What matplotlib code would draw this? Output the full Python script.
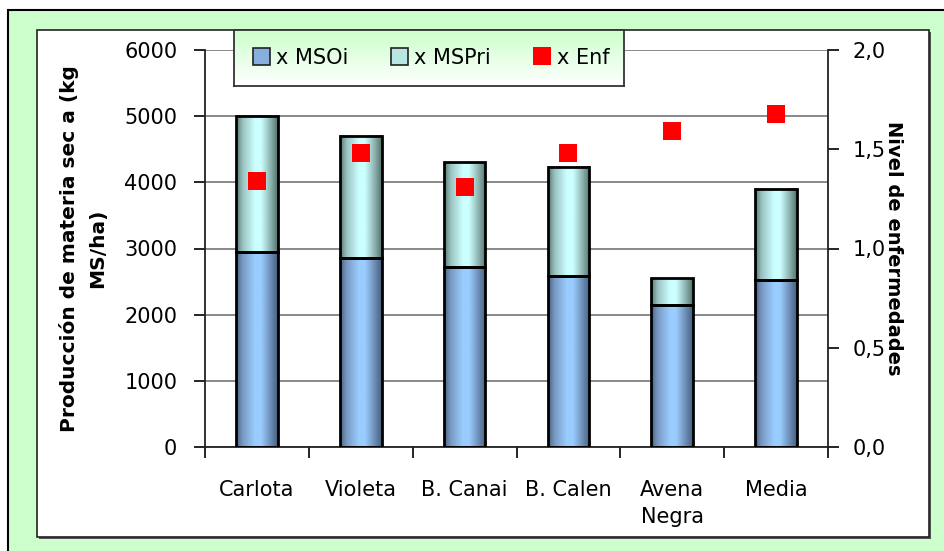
import numpy as np
import matplotlib
matplotlib.use("Agg")
import matplotlib.pyplot as plt
from matplotlib.colors import LinearSegmentedColormap
from matplotlib.patches import Rectangle, Patch
from matplotlib.lines import Line2D

plt.rcParams["font.family"] = ["DejaVu Sans"]

# datos por variedad
variedades = ["Carlota", "Violeta", "B. Canai", "B. Calen", "Avena\nNegra", "Media"]
ms_oi = [2950, 2850, 2720, 2580, 2150, 2520]
ms_pri = [2050, 1850, 1580, 1650, 400, 1380]
enf = [1.34, 1.48, 1.31, 1.48, 1.59, 1.68]

# degradados tipo cilindro para las barras
cmap_oi = LinearSegmentedColormap.from_list("oi", [
    (0.0, "#4a6282"), (0.15, "#7898c2"), (0.45, "#99ccff"),
    (0.6, "#99ccff"), (0.85, "#6a89b0"), (1.0, "#46607f")])
cmap_pri = LinearSegmentedColormap.from_list("pri", [
    (0.0, "#587873"), (0.15, "#98c1be"), (0.45, "#ccffff"),
    (0.6, "#ccffff"), (0.85, "#88aca9"), (1.0, "#54736e")])
grad = np.linspace(0, 1, 64).reshape(1, -1)

fig = plt.figure(figsize=(9.44, 5.51), dpi=100)
fig.patch.set_facecolor("white")

# fondo verde con borde
fig.patches.append(Rectangle((8 / 944, -0.05), 1.0, 1 - 10 / 551 + 0.05,
                             transform=fig.transFigure, facecolor="#ccffcc",
                             edgecolor="black", lw=1.5, zorder=-3))
# sombra y panel blanco
fig.patches.append(Rectangle((39 / 944, 1 - 539 / 551), 892 / 944, 507 / 551,
                             transform=fig.transFigure, facecolor="#555555",
                             edgecolor="none", zorder=-2))
fig.patches.append(Rectangle((37 / 944, 1 - 537 / 551), 892 / 944, 507 / 551,
                             transform=fig.transFigure, facecolor="white",
                             edgecolor="#222222", lw=1.2, zorder=-1))

ax = fig.add_axes([205 / 944, 1 - 447 / 551, 623 / 944, 397 / 551])
ax.set_facecolor("none")
x = np.arange(len(variedades))
width = 0.4

bars_oi = ax.bar(x, ms_oi, width, facecolor="none", edgecolor="black", lw=2, zorder=3)
bars_pri = ax.bar(x, ms_pri, width, bottom=ms_oi, facecolor="none",
                  edgecolor="black", lw=2, zorder=3)

for bars, cm in ((bars_oi, cmap_oi), (bars_pri, cmap_pri)):
    for b in bars:
        x0, y0 = b.get_x(), b.get_y()
        ax.imshow(grad, cmap=cm, aspect="auto", zorder=2,
                  extent=[x0, x0 + b.get_width(), y0, y0 + b.get_height()])

ax.set_xlim(-0.5, len(variedades) - 0.5)
ax.set_ylim(0, 6000)
ax.set_yticks(range(0, 6001, 1000))
ax.yaxis.grid(True, color="#808080", lw=1.3, zorder=0)
ax.set_axisbelow(True)

ax.set_xticks(x)
ax.set_xticklabels(variedades, fontsize=15, linespacing=1.4)
ax.set_xticks(np.arange(-0.5, len(variedades)), minor=True)
ax.tick_params(axis="x", which="major", length=0, pad=24)
ax.tick_params(axis="x", which="minor", length=8, width=1.2, direction="out")
ax.tick_params(axis="y", labelsize=15, length=8, width=1.2, direction="out", pad=12)

for s in ("left", "bottom"):
    ax.spines[s].set_linewidth(1.3)
    ax.spines[s].set_color("#222222")
ax.spines["top"].set_visible(False)
ax.spines["right"].set_visible(False)

ax.set_ylabel("Producción de materia sec a (kg\nMS/ha)", fontsize=14.5,
              fontweight="bold", labelpad=12, linespacing=1.6)

ax2 = ax.twinx()
ax2.plot(x, enf, "s", color="#ff0000", markersize=13, markeredgewidth=0, zorder=4)
ax2.set_ylim(0, 2.0)
ax2.set_yticks([0, 0.5, 1.0, 1.5, 2.0])
ax2.set_yticklabels(["0,0", "0,5", "1,0", "1,5", "2,0"])
ax2.tick_params(axis="y", labelsize=15, length=8, width=1.2, direction="out", pad=10)
ax2.spines["right"].set_linewidth(1.3)
ax2.spines["right"].set_color("#222222")
for s in ("top", "left", "bottom"):
    ax2.spines[s].set_visible(False)
ax2.set_ylabel("Nivel de enfermedades", fontsize=14, fontweight="bold",
               rotation=270, labelpad=12)

# leyenda con fondo degradado verde
lx0, ly0, lw_, lh_ = 234 / 944, 1 - 86 / 551, 390 / 944, 56 / 551
lax = fig.add_axes([lx0, ly0, lw_, lh_], zorder=1)
lax.imshow(np.linspace(0, 1, 64).reshape(-1, 1),
           cmap=LinearSegmentedColormap.from_list("lg", ["#ccffcc", "#ffffff"]),
           aspect="auto", extent=[0, 1, 0, 1])
lax.set_xticks([])
lax.set_yticks([])
for s in lax.spines.values():
    s.set_color("#333333")
    s.set_linewidth(1.3)

handles = [
    Patch(facecolor="#88aee0", edgecolor="#222222", lw=1.2),
    Patch(facecolor="#b8e6e4", edgecolor="#222222", lw=1.2),
    Line2D([], [], marker="s", color="#ff0000", ls="none", markersize=13, markeredgewidth=0),
]
leg = fig.legend(handles, ["x MSOi", "x MSPri", "x Enf"], ncol=3,
                 loc="center", bbox_to_anchor=(lx0 + lw_ / 2 + 2 / 944, ly0 + lh_ / 2),
                 frameon=False, fontsize=15, handlelength=0.85, handleheight=0.85,
                 handletextpad=0.3, columnspacing=2.0)
leg.set_zorder(5)

fig.savefig("out.png", dpi=100)
